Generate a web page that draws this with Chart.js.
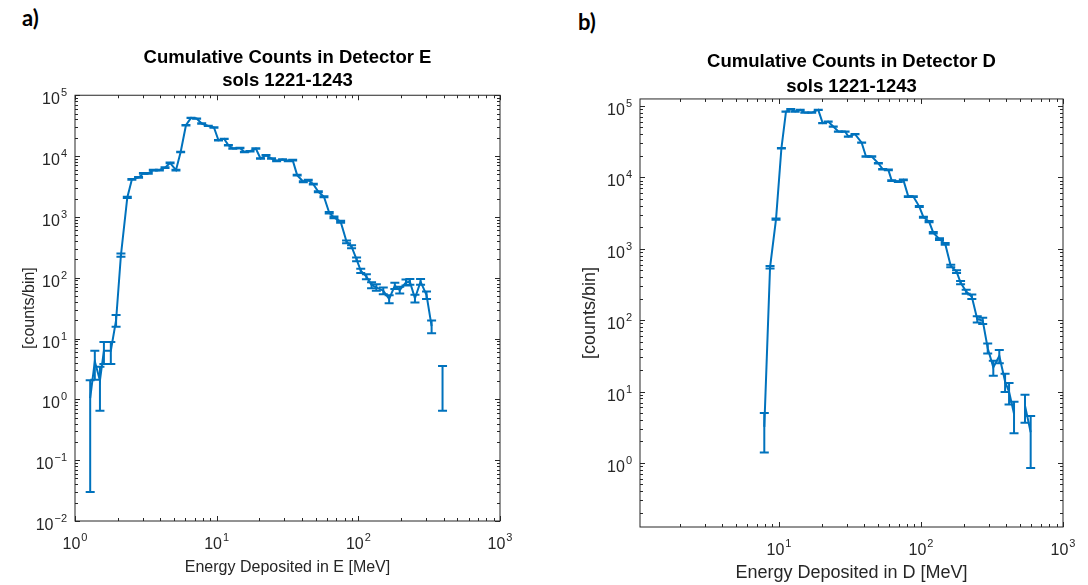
<!DOCTYPE html>
<html>
<head>
<meta charset="utf-8">
<script src="https://cdn.jsdelivr.net/npm/chart.js@4.4.1/dist/chart.umd.min.js"></script>
<style>
  html, body { margin: 0; padding: 0; background: #fff; }
  body { width: 1088px; height: 585px; position: relative; overflow: hidden; }
  .panel { position: absolute; top: 0; width: 544px; height: 585px; }
  .tag { position: absolute; font-family: Lato, 'Liberation Sans', sans-serif; font-weight: bold; font-size: 22px; color: #000; }
</style>
</head>
<body>
<div class="tag" style="left:22px; top:4px;">a)</div>
<div class="tag" style="left:578px; top:8px;">b)</div>
<div class="panel" style="left:0px;"><canvas id="chartE"></canvas></div>
<div class="panel" style="left:544px;"><canvas id="chartD"></canvas></div>
<script>
// Detector E
const energyE = [1.28, 1.38, 1.50, 1.60, 1.79, 1.95, 2.11, 2.34, 2.52, 2.81, 3.04, 3.29, 3.57, 3.94, 4.32, 4.69, 5.16, 5.57, 6.07, 6.59, 7.22, 7.84, 8.73, 9.57, 10.3, 11.3, 12.1, 13.0, 14.6, 15.7, 17.2, 18.9, 20.4, 22.3, 24.4, 26.5, 29.2, 32.0, 34.4, 37.0, 40.9, 44.3, 48.1, 52.2, 57.2, 62.3, 67.3, 75.0, 82.6, 89.6, 97.2, 104, 114, 124, 134, 150, 165, 181, 196, 217, 231, 251, 275, 303, 329, 360, 393];
const countsE = [1.05, 4.2, 2.05, 6.3, 6.3, 20, 236, 2090, 4130, 4450, 5180, 5180, 5860, 5860, 6460, 7720, 5860, 11700, 32100, 42400, 41400, 34300, 31300, 29500, 18200, 19200, 15100, 13300, 13600, 11700, 12000, 13300, 9120, 10300, 9120, 8330, 8790, 8330, 8570, 4860, 3780, 4020, 3460, 2590, 2140, 1170, 981, 832, 390, 323, 200, 130, 104, 75.9, 69.5, 61.2, 44.7, 74, 62.8, 84, 86, 45.8, 86, 52, 16, null, 2.1];
const errE = [1.02, 2.1, 1.4, 2.5, 2.5, 4.4, 15, 46, 64, 67, 72, 72, 77, 77, 80, 88, 77, 108, 179, 206, 203, 185, 177, 172, 135, 139, 123, 115, 117, 108, 110, 115, 95, 101, 95, 91, 94, 91, 93, 70, 61, 63, 59, 51, 46, 34, 31, 29, 20, 18, 14, 11, 10, 8.7, 8.3, 7.8, 6.7, 8.6, 7.9, 9.2, 9.3, 6.8, 9.3, 7.2, 3.8, null, 1.45];

// Detector D
const energyD = [7.88, 8.65, 9.53, 10.4, 11.2, 12.1, 13.0, 14.1, 15.2, 17.0, 18.9, 20.3, 22.2, 24.1, 26.2, 29.2, 30.8, 34.3, 38.2, 41.0, 45.0, 50.1, 53.7, 58.9, 62.2, 69.2, 75.1, 81.4, 88.3, 97.3, 104, 114, 122, 135, 148, 162, 178, 190, 208, 228, 249, 272, 295, 323, 356, 391, 417, 452, 495, 540, 592];
const countsD = [3.2, 550, 2590, 25500, 83300, 89900, 83300, 87900, 80600, 80600, 87900, 57300, 60200, 51300, 43700, 43700, 37200, 40200, 30600, 19500, 19500, 15700, 13000, 12700, 9000, 8710, 9210, 5370, 5370, 3890, 2760, 2400, 1680, 1360, 1170, 574, 478, 335, 251, 213, 103, 98.4, 40.5, 21.8, 31.5, 13.8, 9.9, 4.9, null, 6.35, 2.7];
const errD = [1.8, 23, 51, 160, 289, 300, 289, 296, 284, 284, 296, 239, 245, 226, 209, 209, 193, 200, 175, 140, 140, 125, 114, 113, 95, 93, 96, 73, 73, 62, 53, 49, 41, 37, 34, 24, 22, 18, 16, 15, 10, 10, 6.5, 5.2, 6.6, 3.9, 3.3, 2.3, null, 2.7, 1.85];

const xTicksE = [1, 10, 100, 1000];
const yTicksE = [1e-2, 1e-1, 1, 10, 100, 1e3, 1e4, 1e5];
const xTicksD = [10, 100, 1000];
const yTicksD = [1, 10, 100, 1e3, 1e4, 1e5];

const LINE = '#0072BD';
const AXIS = '#262626';
const FONT = "'Liberation Sans', Arial, sans-serif";
Chart.defaults.font.family = FONT;

// vertical error bars with caps, drawn through the chart's scales
const errorBars = {
    id: 'errorBars',
    afterDatasetsDraw(chart) {
        const { ctx, scales: { x, y } } = chart;
        chart.data.datasets.forEach(ds => {
            if (!ds.errors) return;
            ctx.save();
            ctx.strokeStyle = ds.borderColor;
            ctx.lineWidth = 2;
            ds.data.forEach((p, i) => {
                const e = ds.errors[i];
                if (p.y == null || e == null) return;
                const px = x.getPixelForValue(p.x);
                const top = y.getPixelForValue(p.y + e);
                const bot = y.getPixelForValue(Math.max(p.y - e, y.min));
                ctx.beginPath();
                ctx.moveTo(px, top); ctx.lineTo(px, bot);
                ctx.moveTo(px - 4.5, top); ctx.lineTo(px + 4.5, top);
                ctx.moveTo(px - 4.5, bot); ctx.lineTo(px + 4.5, bot);
                ctx.stroke();
            });
            ctx.restore();
        });
    }
};

// matlab style box with inward major/minor ticks and 10^n labels
function logMarks(scale) {
    const out = [];
    const lo = Math.floor(Math.log10(scale.min)), hi = Math.ceil(Math.log10(scale.max));
    for (let d = lo; d <= hi; d++) {
        for (let m = 1; m <= 9; m++) {
            const v = m * Math.pow(10, d);
            if (v >= scale.min * 0.999 && v <= scale.max * 1.001) out.push({ v, major: m === 1 });
        }
    }
    return out;
}
function drawPow(ctx, v, x, baseline, align) {
    const exp = String(Math.round(Math.log10(v))).replace('-', '\u2212');
    ctx.font = '16px ' + FONT;
    const wBase = ctx.measureText('10').width;
    ctx.font = '11px ' + FONT;
    const wExp = ctx.measureText(exp).width;
    const total = wBase + 1 + wExp;
    const x0 = align === 'right' ? x - total : x - total / 2;
    ctx.textAlign = 'left';
    ctx.textBaseline = 'alphabetic';
    ctx.font = '16px ' + FONT;
    ctx.fillText('10', x0, baseline);
    ctx.font = '11px ' + FONT;
    ctx.fillText(exp, x0 + wBase + 1, baseline - 8);
}
const boxAxes = {
    id: 'boxAxes',
    afterDraw(chart) {
        const { ctx, chartArea: a, scales: { x, y } } = chart;
        const o = chart.options.plugins.boxAxes;
        ctx.save();
        ctx.strokeStyle = AXIS;
        ctx.lineWidth = 1;
        ctx.strokeRect(a.left, a.top, a.right - a.left, a.bottom - a.top);
        ctx.beginPath();
        logMarks(x).forEach(t => {
            const px = Math.round(x.getPixelForValue(t.v)) + 0.5;
            const len = t.major ? 5 : 3;
            ctx.moveTo(px, a.bottom); ctx.lineTo(px, a.bottom - len);
            ctx.moveTo(px, a.top); ctx.lineTo(px, a.top + len);
        });
        logMarks(y).forEach(t => {
            const py = Math.round(y.getPixelForValue(t.v)) + 0.5;
            const len = t.major ? 5 : 3;
            ctx.moveTo(a.left, py); ctx.lineTo(a.left + len, py);
            ctx.moveTo(a.right, py); ctx.lineTo(a.right - len, py);
        });
        ctx.stroke();
        ctx.fillStyle = AXIS;
        o.xTicks.forEach(v => drawPow(ctx, v, x.getPixelForValue(v), a.bottom + 28, 'center'));
        o.yTicks.forEach(v => drawPow(ctx, v, a.left - 8, y.getPixelForValue(v) + 9, 'right'));
        ctx.restore();
    }
};

function makeChart(id, o) {
    const points = o.energy.map((e, i) => ({ x: e, y: o.counts[i] }));
    return new Chart(document.getElementById(id), {
        type: 'line',
        data: {
            datasets: [{
                data: points,
                errors: o.errors,
                borderColor: LINE,
                borderWidth: 2,
                pointRadius: 0,
                tension: 0,
                spanGaps: false,
                fill: false
            }]
        },
        options: {
            responsive: true,
            maintainAspectRatio: false,
            animation: false,
            layout: { padding: { left: 0, right: o.padRight, top: 0, bottom: 0 } },
            plugins: {
                legend: { display: false },
                tooltip: { enabled: false },
                boxAxes: { xTicks: o.xTicks, yTicks: o.yTicks },
                title: {
                    display: true,
                    fullSize: false,
                    text: o.title,
                    color: '#000',
                    font: { size: 18.5, weight: 'bold', lineHeight: o.titleLine },
                    padding: o.titlePad
                }
            },
            scales: {
                x: {
                    type: 'logarithmic',
                    min: o.xMin, max: o.xMax,
                    grid: { display: false, drawTicks: false },
                    border: { display: false },
                    afterFit: s => { s.height = o.xAxisH; },
                    ticks: { display: false },
                    title: { display: true, text: o.xLabel, color: AXIS, font: { size: o.labelSize }, padding: { top: 0, bottom: o.xTitlePad } }
                },
                y: {
                    type: 'logarithmic',
                    min: o.yMin, max: o.yMax,
                    grid: { display: false, drawTicks: false },
                    border: { display: false },
                    afterFit: s => { s.width = o.yAxisW; },
                    ticks: { display: false },
                    title: { display: true, text: '[counts/bin]', color: AXIS, font: { size: o.labelSize }, padding: { top: o.yTitlePad, bottom: 0 } }
                }
            }
        },
        plugins: [errorBars, boxAxes]
    });
}

makeChart('chartE', {
    energy: energyE, counts: countsE, errors: errE,
    title: ['Cumulative Counts in Detector E', 'sols 1221-1243'],
    titleLine: 1.25, titlePad: { top: 46, bottom: 3 },
    xLabel: 'Energy Deposited in E [MeV]',
    xMin: 1, xMax: 1000, yMin: 1e-2, yMax: 1e5,
    xTicks: xTicksE, yTicks: yTicksE,
    padRight: 44, yAxisW: 75, xAxisH: 64,
    labelSize: 16, xTitlePad: 8, yTitlePad: 20
});

makeChart('chartD', {
    energy: energyD, counts: countsD, errors: errD,
    title: ['Cumulative Counts in Detector D', 'sols 1221-1243'],
    titleLine: 1.35, titlePad: { top: 49, bottom: 0 },
    xLabel: 'Energy Deposited in D [MeV]',
    xMin: 1.05, xMax: 1000, yMin: 0.127, yMax: 1.25e5,
    xTicks: xTicksD, yTicks: yTicksD,
    padRight: 25, yAxisW: 96, xAxisH: 58,
    labelSize: 18, xTitlePad: 1, yTitlePad: 35
});
</script>
</body>
</html>
